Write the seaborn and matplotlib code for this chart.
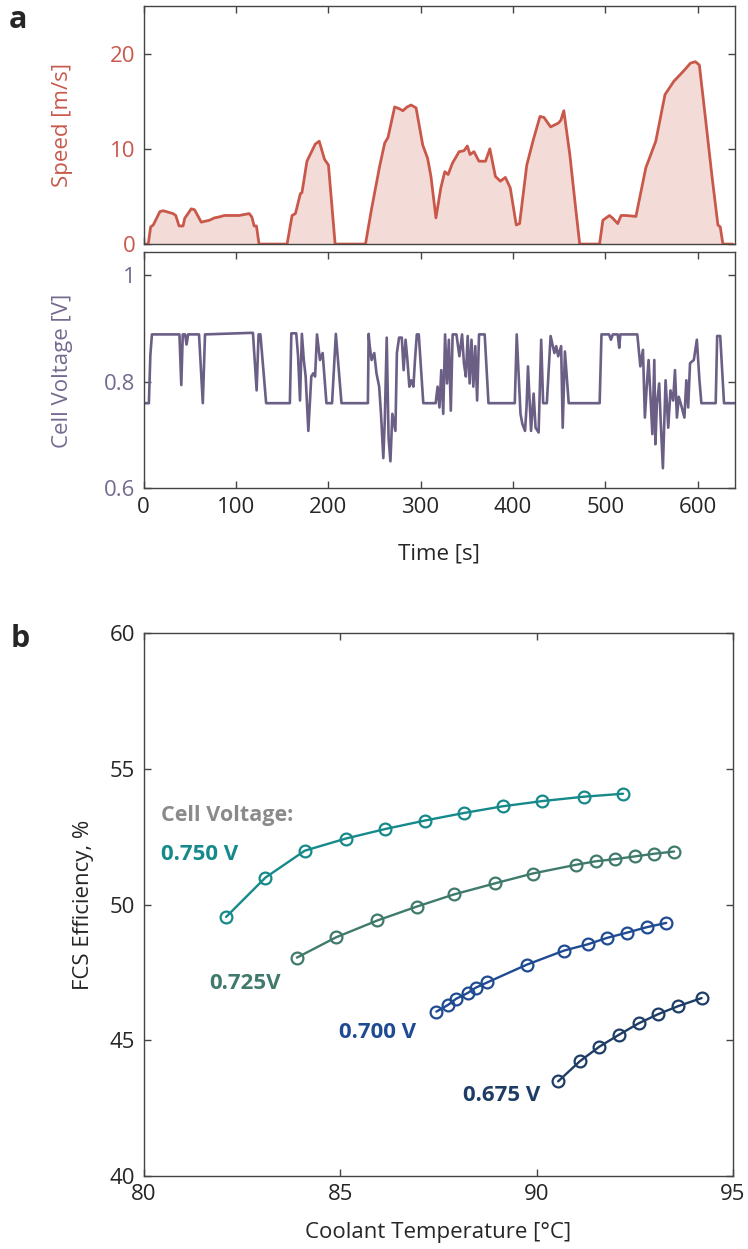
import numpy as np
import pandas as pd
import seaborn as sns
import matplotlib.pyplot as plt

# ---- panel a: drive cycle speed ----
speed_t = [0, 5, 7.6, 10.4, 17.6, 21.2, 31.9, 34.8, 38.4, 42.7, 44.5, 51.6, 55.2, 62.4,
           71.3, 76.7, 82, 87.4, 103.5, 114.3, 117.2, 119.7, 122.2, 125, 155.4, 160.8,
           164.4, 169.8, 171.5, 176.9, 185.9, 190.2, 195.9, 200.2, 207.4, 240.3, 246.7,
           255.7, 261.1, 264.7, 271.9, 277.2, 280.8, 285.4, 289.7, 295.1, 302.3, 307.6,
           311.2, 316.6, 321.9, 326.2, 329.8, 334.5, 341.7, 347, 350.6, 353.5, 357.8,
           363.2, 370.3, 375, 381, 386.4, 391.8, 397.1, 403.6, 407.2, 415, 422.2, 429.3,
           433.6, 440.8, 449.1, 451.9, 455.1, 461.6, 468, 472.3, 493.8, 497.4, 504.5,
           508.2, 513.5, 517.1, 522.5, 533.2, 543.9, 554.7, 564.7, 574.3, 585.1, 592.3,
           597.6, 601.9, 608.4, 615.6, 622, 624.5, 627.4, 638]
speed_v = [0, 0, 1.8, 2.0, 3.4, 3.5, 3.2, 3.0, 1.9, 1.9, 2.7, 3.7, 3.6, 2.3,
           2.5, 2.75, 2.85, 3.0, 3.0, 3.2, 2.85, 1.9, 1.9, 0, 0, 3.0,
           3.2, 5.3, 5.4, 8.7, 10.5, 10.8, 8.9, 8.3, 0, 0, 3.6,
           8.2, 10.6, 11.2, 14.4, 14.2, 14.0, 14.4, 14.6, 14.3, 10.4, 9.0,
           7.1, 2.75, 5.9, 7.6, 7.3, 8.5, 9.7, 9.8, 10.3, 9.4, 9.7,
           8.7, 8.7, 10.0, 7.1, 6.6, 7.0, 5.9, 2.0, 2.15, 8.3, 11.0, 13.4,
           13.3, 12.3, 12.7, 13.0, 14.0, 9.4, 3.7, 0, 0, 2.5, 3.0,
           2.7, 2.15, 3.0, 3.0, 2.9, 8.0, 10.8, 15.7, 17.1, 18.2, 19.0,
           19.15, 18.8, 13.3, 7.1, 2.0, 1.8, 0, 0]

# ---- panel a: cell voltage ----
volt_t = [0, 4.1, 5.7, 7.3, 9.0, 38.8, 40.8, 42.4, 44.9, 46.5, 48.2, 55.1, 60.0, 64.1, 66.5,
          118.4, 122.4, 124.5, 126.5, 132.7, 158.4, 160.0, 165.3, 167.3, 169.4, 171.4,
          173.5, 175.5, 178.4, 181.6, 183.7, 185.7, 187.8, 191.0, 193.9, 198.0, 204.1,
          208.2, 214.3, 242.9, 243.7, 244.9, 246.9, 249.8, 252.2, 255.1, 257.1, 259.6,
          261.2, 263.3, 265.3, 267.3, 269.4, 272.7, 274.3, 276.7, 279.6, 281.6, 283.7,
          285.7, 287.8, 289.8, 292.2, 293.9, 295.9, 298.0, 302.9, 316.3, 318.4, 320.4,
          322.4, 324.5, 326.5, 328.6, 330.6, 332.7, 334.7, 338.8, 342.0, 344.9, 346.9,
          349.0, 351.0, 353.1, 355.1, 357.1, 359.2, 361.2, 363.3, 369.4, 373.5, 402.0,
          404.1, 408.2, 410.2, 413.1, 414.7, 416.3, 419.6, 422.4, 424.5, 427.8, 430.6,
          432.7, 436.7, 440.8, 444.9, 446.9, 449.0, 452.2, 453.9, 456.3, 460.4, 493.9,
          495.9, 504.1, 506.1, 508.2, 513.5, 515.1, 516.3, 534.7, 538.0, 540.8, 542.9,
          544.9, 546.9, 549.0, 551.0, 553.1, 554.3, 555.9, 558.4, 560.0, 562.4, 565.3,
          568.2, 570.6, 573.5, 575.5, 577.6, 579.6, 582.9, 585.7, 587.8, 589.8, 591.8,
          595.9, 599.2, 602.0, 604.1, 619.6, 621.2, 624.5, 628.6, 640]
volt_v = [0.76, 0.76, 0.76, 0.85, 0.889, 0.889, 0.794, 0.889, 0.889, 0.87, 0.889, 0.889, 0.889,
          0.76, 0.889, 0.892, 0.784, 0.889, 0.889, 0.76, 0.76, 0.891, 0.891, 0.848, 0.765,
          0.89, 0.841, 0.81, 0.708, 0.81, 0.816, 0.81, 0.889, 0.841, 0.854, 0.76, 0.76,
          0.89, 0.76, 0.76, 0.89, 0.867, 0.841, 0.854, 0.816, 0.791, 0.74, 0.657,
          0.727, 0.883, 0.695, 0.651, 0.74, 0.708, 0.854, 0.883, 0.883, 0.822, 0.879,
          0.841, 0.791, 0.803, 0.791, 0.841, 0.889, 0.889, 0.76, 0.76, 0.791, 0.752,
          0.822, 0.74, 0.889, 0.797, 0.879, 0.746, 0.889, 0.889, 0.848, 0.889, 0.835,
          0.81, 0.886, 0.797, 0.879, 0.791, 0.867, 0.765, 0.889, 0.889, 0.76, 0.76,
          0.889, 0.74, 0.721, 0.708, 0.752, 0.829, 0.708, 0.778, 0.714, 0.705, 0.879,
          0.76, 0.76, 0.886, 0.854, 0.867, 0.848, 0.867, 0.714, 0.857, 0.76, 0.76,
          0.889, 0.889, 0.879, 0.889, 0.889, 0.864, 0.889, 0.889, 0.829, 0.86, 0.733,
          0.791, 0.841, 0.772, 0.702, 0.841, 0.683, 0.759, 0.797, 0.727, 0.638, 0.803,
          0.714, 0.784, 0.765, 0.822, 0.733, 0.772, 0.752, 0.733, 0.803, 0.752, 0.835,
          0.841, 0.879, 0.803, 0.76, 0.76, 0.886, 0.886, 0.76, 0.76]

# ---- panel b: FCS efficiency vs coolant temperature ----
temp_750 = [82.1, 83.1, 84.1, 85.15, 86.15, 87.15, 88.15, 89.15, 90.15, 91.2, 92.2]
eff_750 = [49.55, 51.0, 51.99, 52.44, 52.79, 53.1, 53.38, 53.63, 53.82, 53.98, 54.09]
temp_725 = [83.9, 84.9, 85.95, 86.95, 87.9, 88.95, 89.9, 91.0, 91.5, 92.0, 92.5, 93.0, 93.5]
eff_725 = [48.05, 48.8, 49.42, 49.93, 50.38, 50.79, 51.15, 51.47, 51.6, 51.68, 51.78, 51.88, 51.96]
temp_700 = [87.45, 87.75, 87.95, 88.25, 88.45, 88.75, 89.75, 90.7, 91.3, 91.8, 92.3, 92.8, 93.3]
eff_700 = [46.06, 46.31, 46.53, 46.75, 46.94, 47.14, 47.79, 48.31, 48.54, 48.78, 48.97, 49.17, 49.33]
temp_675 = [90.55, 91.1, 91.6, 92.1, 92.6, 93.1, 93.6, 94.2]
eff_675 = [43.49, 44.23, 44.77, 45.21, 45.63, 45.97, 46.26, 46.56]

curve_labels = ['0.750 V', '0.725V', '0.700 V', '0.675 V']
curve_colors = ['#16898a', '#3f7a6c', '#1f4b92', '#1d3c66']

sns.set_style('ticks')
plt.rcParams['font.family'] = ['Open Sans', 'DejaVu Sans']
plt.rcParams['xtick.direction'] = 'in'
plt.rcParams['ytick.direction'] = 'in'
plt.rcParams['axes.edgecolor'] = '#444444'
plt.rcParams['axes.linewidth'] = 1.0

RED = '#c9584b'
PURPLE = '#6b5f86'
PURPLE_TXT = '#75698f'

fig = plt.figure(figsize=(7.48, 12.49), dpi=100)
ax1 = fig.add_axes([0.192, 0.8046, 0.79, 0.1906])
ax2 = fig.add_axes([0.192, 0.6089, 0.79, 0.1891])
ax3 = fig.add_axes([0.192, 0.0584, 0.788, 0.4345])


def box_ticks(ax):
    ax.tick_params(axis='both', which='both', top=True, right=True, length=5,
                   width=1, color='#444444', labelsize=16, pad=6)


# speed
ax1.fill_between(speed_t, speed_v, 0, color='#f3dcd8', lw=0)
sns.lineplot(x=speed_t, y=speed_v, ax=ax1, color=RED, lw=2.0, estimator=None, sort=False)
ax1.set_xlim(0, 640)
ax1.set_ylim(0, 25)
ax1.set_yticks([0, 10, 20])
ax1.set_xticks(range(0, 700, 100))
ax1.set_xticklabels([])
box_ticks(ax1)
ax1.tick_params(axis='y', labelcolor=RED)
ax1.set_ylabel('Speed [m/s]', color=RED, fontsize=16)
ax1.yaxis.set_label_coords(-0.12, 0.5)
ax1.set_xlabel('')

# voltage
sns.lineplot(x=volt_t, y=volt_v, ax=ax2, color=PURPLE, lw=1.9, estimator=None, sort=False)
ax2.set_xlim(0, 640)
ax2.set_ylim(0.6, 1.043)
ax2.set_yticks([0.6, 0.8, 1.0])
ax2.set_yticklabels(['0.6', '0.8', '1'])
ax2.set_xticks(range(0, 700, 100))
box_ticks(ax2)
ax2.tick_params(axis='y', labelcolor=PURPLE_TXT)
ax2.set_ylabel('Cell Voltage [V]', color=PURPLE_TXT, fontsize=16)
ax2.yaxis.set_label_coords(-0.12, 0.5)
ax2.set_xlabel('Time [s]', fontsize=16)
ax2.xaxis.set_label_coords(0.5, -0.235)

# efficiency curves
temps = [temp_750, temp_725, temp_700, temp_675]
effs = [eff_750, eff_725, eff_700, eff_675]
for tx, ey, c in zip(temps, effs, curve_colors):
    sns.lineplot(x=tx, y=ey, ax=ax3, color=c, lw=1.7, marker='o', markersize=8.5,
                 markerfacecolor='none', markeredgecolor=c, markeredgewidth=1.6,
                 estimator=None, sort=False)
ax3.set_xlim(80, 95)
ax3.set_ylim(40, 60)
ax3.set_xticks([80, 85, 90, 95])
ax3.set_yticks([40, 45, 50, 55, 60])
box_ticks(ax3)
ax3.set_xlabel('Coolant Temperature [°C]', fontsize=16)
ax3.set_ylabel('FCS Efficiency, %', fontsize=16)
ax3.yaxis.set_label_coords(-0.085, 0.5)
ax3.xaxis.set_label_coords(0.5, -0.085)

ax3.text(80.43, 53.3, 'Cell Voltage:', color='#8a8a8a', fontsize=15.5,
         fontweight='bold', va='center', ha='left')
label_pos = [(80.43, 51.85), (81.67, 47.09), (84.98, 45.3), (88.13, 42.96)]
for (lx, ly), lab, c in zip(label_pos, curve_labels, curve_colors):
    ax3.text(lx, ly, lab, color=c, fontsize=16, fontweight='bold', va='center', ha='left')

fig.text(0.012, 0.984, 'a', fontsize=22, fontweight='bold', va='center')
fig.text(0.014, 0.488, 'b', fontsize=22, fontweight='bold', va='center')

plt.savefig('out.png', dpi=100)
